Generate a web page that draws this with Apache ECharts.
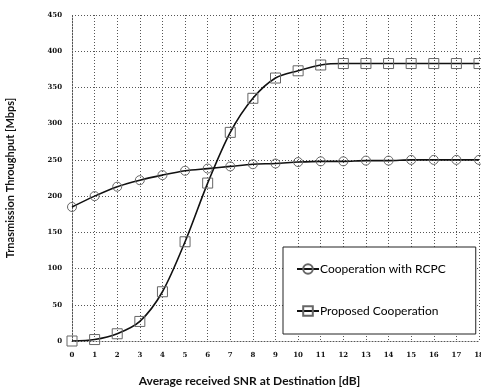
<!DOCTYPE html>
<html>
<head>
<meta charset="utf-8">
<script src="https://cdn.jsdelivr.net/npm/echarts@6/dist/echarts.min.js"></script>
<style>
  html, body { margin: 0; padding: 0; background: #fff; }
  #chart { width: 481px; height: 389px; }
</style>
</head>
<body>
<div id="chart"></div>
<script>
// SNR values at the destination (dB)
const snr = [0, 1, 2, 3, 4, 5, 6, 7, 8, 9, 10, 11, 12, 13, 14, 15, 16, 17, 18];
// Throughput of cooperation with RCPC (Mbps)
const rcpc = [185, 200, 213, 222, 229, 235, 238, 241, 244, 245, 247, 248, 248, 249, 249, 250, 250, 250, 250];
// Throughput of the proposed cooperation (Mbps)
const proposed = [0, 2, 10, 27, 68, 137, 218, 288, 335, 363, 373, 381, 383, 383, 383, 383, 383, 383, 383];

const pairs = (ys) => snr.map((x, i) => [x, ys[i]]);

const gridLine = { show: true, lineStyle: { color: '#555', type: [1, 2], width: 1 } };
const tickFont = { fontFamily: 'DejaVu Serif', fontSize: 7, color: '#111', fontWeight: 'bold' };

const chart = echarts.init(document.getElementById('chart'), null, { renderer: 'canvas' });
chart.setOption({
  animation: false,
  backgroundColor: '#fff',
  grid: { left: 72, right: 2, top: 15, bottom: 48, show: false, containLabel: false, outerBoundsMode: 'none' },
  xAxis: {
    type: 'value', min: 0, max: 18, interval: 1,
    name: 'Average received SNR at Destination [dB]',
    nameLocation: 'middle', nameGap: 34,
    nameTextStyle: { fontFamily: 'Lato', fontSize: 12, color: '#111', fontWeight: 'bold', padding: [0, 52, 0, 0] },
    axisLine: { show: true, lineStyle: { color: '#555', type: [1, 2] } },
    axisTick: { show: false },
    axisLabel: Object.assign({ margin: 11 }, tickFont),
    splitLine: gridLine
  },
  yAxis: {
    type: 'value', min: 0, max: 450, interval: 50,
    name: 'Trnasmission Throughput [Mbps]',
    nameLocation: 'middle', nameGap: 56,
    nameTextStyle: { fontFamily: 'Lato', fontSize: 11, color: '#111', fontWeight: 'bold' },
    axisLine: { show: true, lineStyle: { color: '#555', type: [1, 2] } },
    axisTick: { show: false },
    axisLabel: Object.assign({ margin: 10 }, tickFont),
    splitLine: gridLine
  },
  legend: {
    orient: 'vertical',
    left: 283, top: 247,
    width: 192,
    padding: [16, 30, 17, 13],
    itemGap: 30,
    itemWidth: 22, itemHeight: 12,
    backgroundColor: '#fff',
    borderColor: '#222', borderWidth: 1,
    textStyle: { fontFamily: 'Lato', fontSize: 12, color: '#000', padding: [0, 0, 0, -4] },
    data: ['Cooperation with RCPC', 'Proposed Cooperation']
  },
  series: [
    {
      name: 'Cooperation with RCPC',
      type: 'line',
      data: pairs(rcpc),
      smooth: 0.3,
      symbol: 'circle', symbolSize: 9,
      lineStyle: { color: '#111', width: 1.6 },
      itemStyle: { color: 'rgba(255,255,255,0)', borderColor: '#666', borderWidth: 1 },
      z: 3
    },
    {
      name: 'Proposed Cooperation',
      type: 'line',
      data: pairs(proposed),
      smooth: 0.3,
      symbol: 'rect', symbolSize: 10,
      lineStyle: { color: '#111', width: 1.6 },
      itemStyle: { color: 'rgba(255,255,255,0)', borderColor: '#666', borderWidth: 1 },
      z: 3
    }
  ]
});
</script>
</body>
</html>
